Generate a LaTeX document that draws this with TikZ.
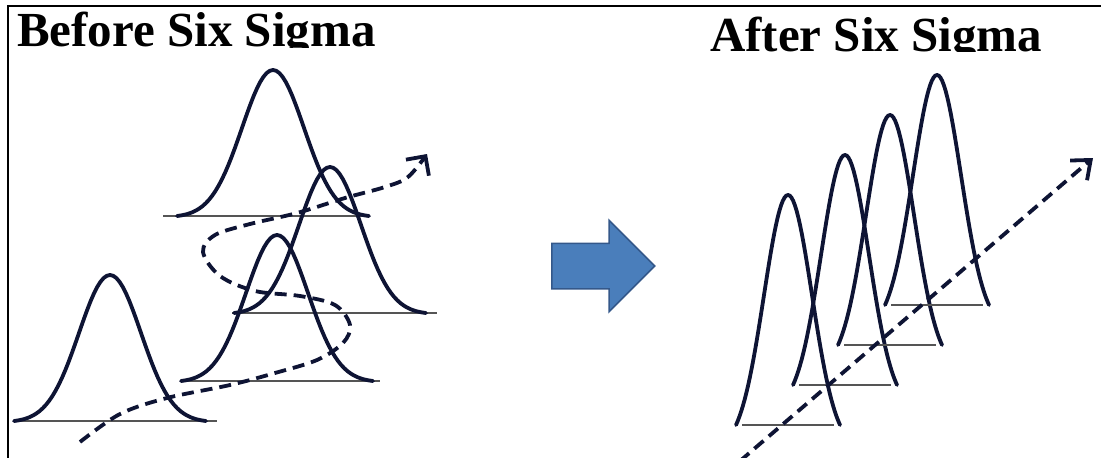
\documentclass[tikz,border=0pt]{standalone}
\usepackage{fontspec}
\setmainfont{Liberation Serif}
\usetikzlibrary{arrows.meta,shapes.arrows}
\definecolor{ink}{HTML}{0E1434}
\definecolor{rule}{HTML}{555555}
\definecolor{shiftblue}{HTML}{4A7EBB}
\definecolor{shiftedge}{HTML}{34588A}
\begin{document}
\begin{tikzpicture}[x=1pt,y=-1pt,title/.style={anchor=base west,inner sep=0pt,font=\fontsize{49}{49}\selectfont\bfseries},bell/.style={draw=ink,line width=3.8pt,line cap=round,line join=round},base/.style={draw=rule,line width=1.8pt},drift/.style={draw=ink,line width=3.8pt,dash pattern=on 12pt off 7pt}]
\useasboundingbox (0,0) rectangle (1101,458);
\draw[line width=1.5pt] (8,458) -- (8,6) -- (1101,6);
\begin{scope}
\clip (8,6) rectangle (550,47);
\node[title] (before) at (17,46) {Before Six Sigma};
\end{scope}
\begin{scope}
\clip (550,6) rectangle (1101,51);
\node[title] (after) at (710,51) {After Six Sigma};
\end{scope}
\node[single arrow,anchor=tail,draw=shiftedge,fill=shiftblue,line width=1.5pt,inner xsep=0pt,inner ysep=22pt,minimum height=103pt,single arrow head extend=23pt] (shift) at (551,266) {};
\foreach \px/\py/\l/\r in {110/421/97/107,273/216/110/97,330/313/98/107,277/381/97/103}{
\draw[base] (\px-\l,\py) -- (\px+\r,\py);
\draw[bell] plot[domain=-96:96,samples=61] ({\px+\x},{\py-146*(exp(-(\x)*(\x)/1922)-0.0083)/0.9917});}
\foreach \px/\py in {788/425,845/385,890/345,937/305}{
\draw[base] (\px-46,\py) -- (\px+46,\py);
\draw[bell] plot[domain=-52:52,samples=61] ({\px+\x},{\py-230*(exp(-(\x)*(\x)/1152)-0.0956)/0.9044});}
\draw[drift,-{Straight Barb[length=14pt,width=28pt]}] plot[smooth,tension=.55] coordinates {(80,442) (120,414) (167,398) (230,385) (275,373) (317,360) (343,343) (350,325) (335,305) (300,296) (255,291) (220,276) (203,252) (215,235) (250,224) (297,213) (345,198) (385,187) (408,177) (427,154)};
\coordinate (start) at (740,461);
\coordinate (goal) at (1093,158);
\draw[drift,-{Straight Barb[length=16pt,width=26pt]}] (start) -- (goal);
\end{tikzpicture}
\end{document}
